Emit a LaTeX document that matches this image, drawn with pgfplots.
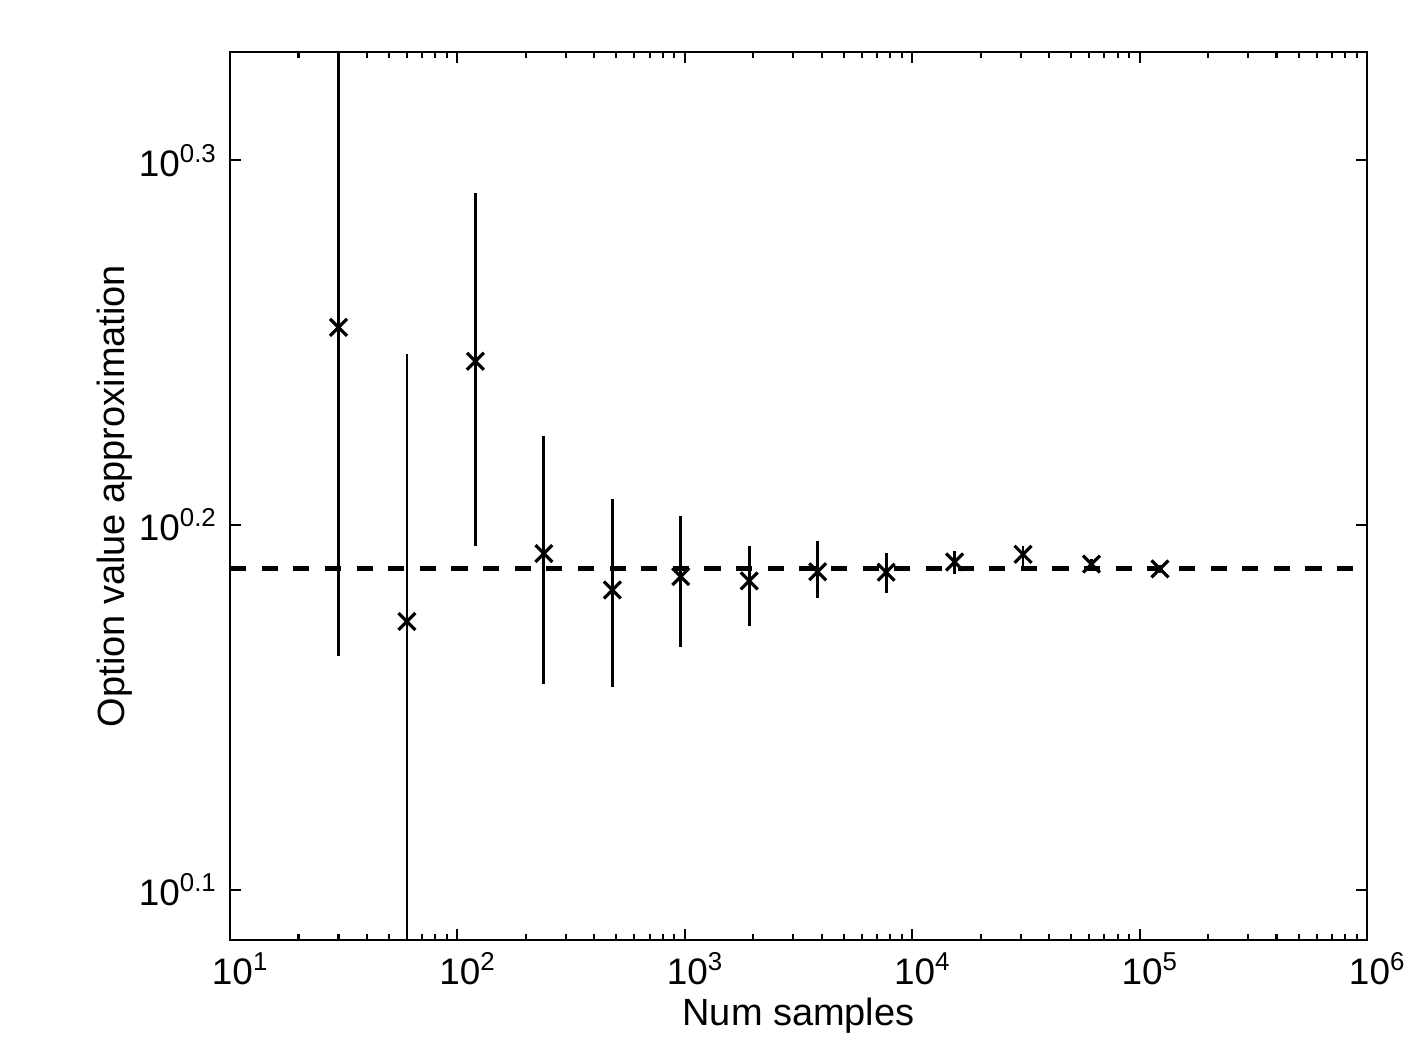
\documentclass[border=0pt]{standalone}
\usepackage{fontspec}
\setmainfont{Liberation Sans}
\usepackage{pgfplots}
\pgfplotsset{compat=1.18}
\begin{document}
\begin{tikzpicture}
\path[use as bounding box] (-23mm,-11.8mm) rectangle (118.2mm,94mm);
\begin{axis}[
  at={(0,0)}, anchor=south west,
  scale only axis,
  width=113.7mm, height=88.8mm,
  xmode=log, ymode=log,
  xmin=10, xmax=1000000,
  ymin=1.2199, ymax=2.1360,
  xtick={10,100,1000,10000,100000,1000000},
  xticklabels={10\textsuperscript{1},10\textsuperscript{2},10\textsuperscript{3},10\textsuperscript{4},10\textsuperscript{5},10\textsuperscript{6}},
  ytick={1.258925,1.584893,1.995262},
  yticklabels={10\textsuperscript{0.1},10\textsuperscript{0.2},10\textsuperscript{0.3}},
  yminorticks=false,
  tick align=inside,
  major tick length=1.1mm,
  minor tick length=0.6mm,
  axis line style={line width=0.8pt},
  every tick/.style={black, line width=0.6pt},
  tick label style={font=\fontsize{10.5}{12}\selectfont},
  xticklabel style={xshift=3pt},
  label style={font=\fontsize{10.8}{13}\selectfont},
  xlabel={Num samples},
  ylabel={Option value approximation},
  xlabel style={yshift=3pt},
  ylabel style={yshift=-5pt},
  unbounded coords=jump,
  clip=true,
]
% reference (dashed) line
\addplot[black, line width=1.4pt, dash pattern=on 4.6pt off 4.4pt] coordinates {(10,1.5424) (1000000,1.5424)};
% error bars (low -> high)
\addplot[black, line width=0.8pt] coordinates {
(30,1.4591) (30,2.2900) (30,nan)
(60,1.1749) (60,1.7661) (60,nan)
(120,1.5639) (120,1.9543) (120,nan)
(240,1.4341) (240,1.6769) (240,nan)
(480,1.4308) (480,1.6110) (480,nan)
(960,1.4679) (960,1.5944) (960,nan)
(1920,1.4870) (1920,1.5639) (1920,nan)
(3840,1.5139) (3840,1.5685) (3840,nan)
(7680,1.5185) (7680,1.5570) (7680,nan)
(15360,1.5368) (15360,1.5592) (15360,nan)
(30720,1.5446) (30720,1.5639) (30720,nan)
(61440,1.5414) (61440,1.5513) (61440,nan)
(122880,1.5375) (122880,1.5453)
};
% estimates
\addplot[only marks, mark=x, mark size=3.4pt, mark options={line width=0.9pt, black}] coordinates {
(30,1.7956) (60,1.4914) (120,1.7575) (240,1.5567) (480,1.5213) (960,1.5343)
(1920,1.5301) (3840,1.5389) (7680,1.5386) (15360,1.5485) (30720,1.5560)
(61440,1.5464) (122880,1.5417)
};
\end{axis}
\end{tikzpicture}
\end{document}
